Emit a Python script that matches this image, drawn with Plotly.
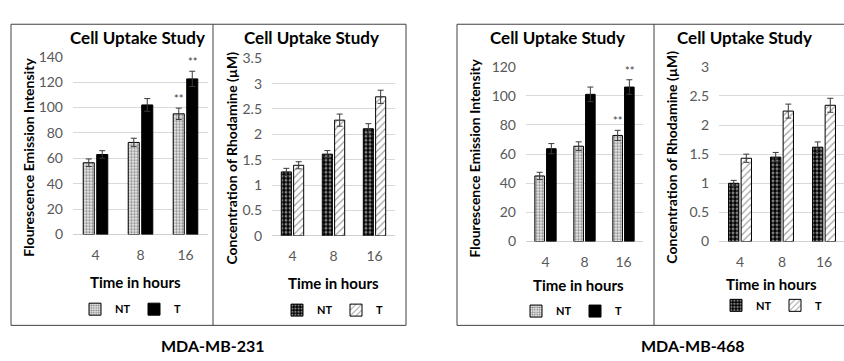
import plotly.graph_objects as go

W, H = 844, 361
FONT = "Lato, Carlito, Calibri, sans-serif"

hours = ["4", "8", "16"]

# MDA-MB-231 : fluorescence emission intensity
f231_nt = [56.5, 72.5, 95.0]
f231_nt_err = [3.0, 3.3, 4.5]
f231_t = [63.0, 102.0, 122.5]
f231_t_err = [3.0, 5.0, 6.0]
# MDA-MB-231 : concentration of rhodamine (uM)
c231_nt = [1.26, 1.61, 2.11]
c231_nt_err = [0.07, 0.07, 0.10]
c231_t = [1.39, 2.28, 2.74]
c231_t_err = [0.07, 0.12, 0.13]
# MDA-MB-468 : fluorescence emission intensity
f468_nt = [45.0, 65.4, 72.8]
f468_nt_err = [2.5, 3.0, 3.5]
f468_t = [63.7, 101.0, 106.0]
f468_t_err = [3.5, 5.0, 5.0]
# MDA-MB-468 : concentration of rhodamine (uM)
c468_nt = [1.00, 1.45, 1.62]
c468_nt_err = [0.05, 0.08, 0.09]
c468_t = [1.43, 2.24, 2.34]
c468_t_err = [0.07, 0.12, 0.12]

# significance marks ("**") per series, per hour
sig_f231_nt = ["", "", "**"]
sig_f231_t = ["", "", "**"]
sig_f468_nt = ["", "", "**"]
sig_f468_t = ["", "", "**"]

title_txt = "Cell Uptake Study"
xtitle_txt = "Time in hours"
ytitle_fl = "Flourescence Emission Intensity"
ytitle_conc = "Concentration of Rhodamine (µM)"
cell_lines = ["MDA-MB-231", "MDA-MB-468"]

BARGAP = 0.40
GROUPGAP = 0.18

def px(x):
    return x / W

def py(y):
    return 1 - y / H

pat_stipple = dict(shape=".", size=3, solidity=0.55, fgcolor="#222222", bgcolor="white")
pat_check = dict(shape=".", size=4, solidity=0.45, fgcolor="white", bgcolor="black")
pat_hatch = dict(shape="/", size=5, solidity=0.25, fgcolor="#444444", bgcolor="white")

panels = [
    dict(nt=f231_nt, nte=f231_nt_err, t=f231_t, te=f231_t_err, sig_nt=sig_f231_nt, sig_t=sig_f231_t,
         nt_pat=pat_stipple, t_pat=None, t_col="black", yr=[0, 140], dt=20,
         x0=73, x1=208, y0=50, y1=236.7, cat=45, ytitle=ytitle_fl, ytx=29, yty=156,
         tx=137, ty=30, xtx=135, xty=286, lgx=134, lgy=315),
    dict(nt=c231_nt, nte=c231_nt_err, t=c231_t, te=c231_t_err, sig_nt=None, sig_t=None,
         nt_pat=pat_check, t_pat=pat_hatch, t_col="white", yr=[0, 3.5], dt=0.5,
         x0=272, x1=395, y0=51.7, y1=238, cat=41, ytitle=ytitle_conc, ytx=232, yty=157,
         tx=311, ty=30, xtx=333, xty=288, lgx=336, lgy=316),
    dict(nt=f468_nt, nte=f468_nt_err, t=f468_t, te=f468_t_err, sig_nt=sig_f468_nt, sig_t=sig_f468_t,
         nt_pat=pat_stipple, t_pat=None, t_col="black", yr=[0, 120], dt=20,
         x0=526, x1=643, y0=60.5, y1=244, cat=39, ytitle=ytitle_fl, ytx=475, yty=157,
         tx=557, ty=30, xtx=578, xty=290, lgx=575, lgy=317),
    dict(nt=c468_nt, nte=c468_nt_err, t=c468_t, te=c468_t_err, sig_nt=None, sig_t=None,
         nt_pat=pat_check, t_pat=pat_hatch, t_col="white", yr=[0, 3], dt=0.5,
         x0=719, x1=844, y0=60.7, y1=244, cat=42, ytitle=ytitle_conc, ytx=672, yty=156,
         tx=744, ty=30, xtx=771, xty=289, lgx=775, lgy=311),
]

fig = go.Figure()
annotations = []
layout_axes = {}
slot = (1 - BARGAP) / 2

def ann(text, x, y, size, angle=0, color="black"):
    return dict(text=text, x=px(x), y=py(y), xref="paper", yref="paper", showarrow=False,
                xanchor="center", yanchor="middle", textangle=angle,
                font=dict(family=FONT, size=size, color=color))

for i, p in enumerate(panels, start=1):
    xa = "x" if i == 1 else f"x{i}"
    ya = "y" if i == 1 else f"y{i}"
    lg = "legend" if i == 1 else f"legend{i}"
    errstyle = dict(type="data", color="#3a3a3a", thickness=1, width=3)
    fig.add_trace(go.Bar(
        x=hours, y=p["nt"], name="<b>NT</b>", xaxis=xa, yaxis=ya, legend=lg,
        marker=dict(color="white", pattern=p["nt_pat"], line=dict(color="black", width=1)),
        error_y=dict(array=p["nte"], **errstyle)))
    tmark = dict(color=p["t_col"], line=dict(color="black", width=1))
    if p["t_pat"] is not None:
        tmark["pattern"] = p["t_pat"]
    fig.add_trace(go.Bar(
        x=hours, y=p["t"], name="<b>T</b>", xaxis=xa, yaxis=ya, legend=lg,
        marker=tmark, error_y=dict(array=p["te"], **errstyle)))

    xrange_w = (p["x1"] - p["x0"]) / p["cat"]
    layout_axes["xaxis" if i == 1 else f"xaxis{i}"] = dict(
        domain=[px(p["x0"]), min(px(p["x1"]), 1.0)], anchor=ya, type="category",
        range=[-0.5, -0.5 + xrange_w], showgrid=False, showline=False, ticks="",
        zeroline=False, tickfont=dict(family=FONT, size=14, color="#595959"),
        ticklabelstandoff=10, fixedrange=True)
    layout_axes["yaxis" if i == 1 else f"yaxis{i}"] = dict(
        domain=[py(p["y1"]), py(p["y0"])], anchor=xa, range=p["yr"], dtick=p["dt"],
        showgrid=True, gridcolor="#d9d9d9", gridwidth=1, zeroline=True,
        zerolinecolor="#d0d0d0", zerolinewidth=1, showline=False, ticks="",
        tickfont=dict(family=FONT, size=14, color="#595959"), ticklabelstandoff=9,
        fixedrange=True)
    layout_axes[lg] = dict(
        orientation="h", x=px(p["lgx"]), y=py(p["lgy"]), xanchor="center", yanchor="middle",
        font=dict(family=FONT, size=11, color="black"), bgcolor="rgba(0,0,0,0)",
        itemwidth=30, entrywidth=14, entrywidthmode="pixels", tracegroupgap=0,
        itemclick=False, itemdoubleclick=False)

    annotations.append(ann(f"<b>{title_txt}</b>", p["tx"], p["ty"], 17))
    annotations.append(ann(f"<b>{xtitle_txt}</b>", p["xtx"], p["xty"], 15))
    annotations.append(ann(f"<b>{p['ytitle']}</b>", p["ytx"], p["yty"], 14, angle=-90))
    for vals, errs, sig, off in ((p["nt"], p["nte"], p["sig_nt"], -slot / 2),
                                 (p["t"], p["te"], p["sig_t"], slot / 2)):
        if sig is None:
            continue
        for k, s in enumerate(sig):
            if s:
                annotations.append(dict(text=s, x=k + off, y=vals[k] + errs[k], xref=xa, yref=ya,
                                        showarrow=False, xanchor="center", yanchor="bottom", yshift=1,
                                        font=dict(family=FONT, size=11, color="#404040")))

# cell-line captions
annotations.append(ann(f"<b>{cell_lines[0]}</b>", 212, 353, 16))
annotations.append(ann(f"<b>{cell_lines[1]}</b>", 692, 353, 16))

box = dict(color="#404040", width=1)
shapes = [
    dict(type="rect", xref="paper", yref="paper", x0=px(11), x1=px(406), y0=py(332), y1=py(16), line=box),
    dict(type="line", xref="paper", yref="paper", x0=px(213), x1=px(213), y0=py(332), y1=py(16), line=box),
    dict(type="rect", xref="paper", yref="paper", x0=px(457), x1=px(846), y0=py(332), y1=py(16), line=box),
    dict(type="line", xref="paper", yref="paper", x0=px(654), x1=px(654), y0=py(332), y1=py(16), line=box),
]

fig.update_layout(
    width=W, height=H, margin=dict(l=0, r=0, t=0, b=0),
    paper_bgcolor="white", plot_bgcolor="rgba(0,0,0,0)",
    barmode="group", bargap=BARGAP, bargroupgap=GROUPGAP,
    annotations=annotations, shapes=shapes, showlegend=True,
    font=dict(family=FONT), **layout_axes)

fig.write_html("out.html", config=dict(displayModeBar=False))
